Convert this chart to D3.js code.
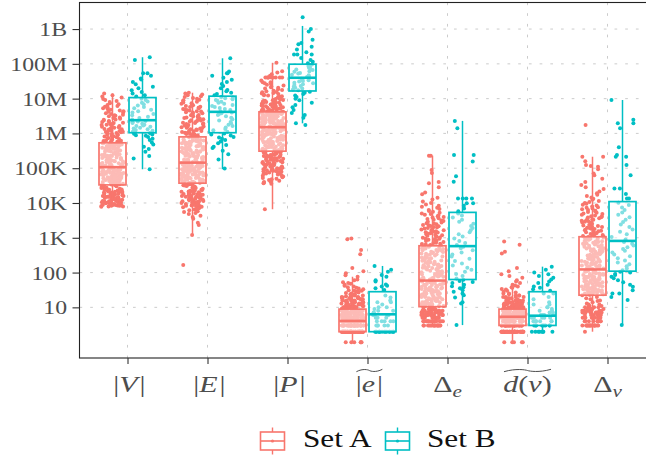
<!DOCTYPE html>
<html>
<head>
<meta charset="utf-8">
<script src="https://cdn.jsdelivr.net/npm/d3@7"></script>
<style>
  body { margin: 0; background: #fff; }
  svg { display: block; }
</style>
</head>
<body>
<svg id="chart" width="646" height="456"></svg>
<script>
// ---- data (all values are log10 of the measured quantity) ----
const categories = ["V", "E", "P", "e", "De", "dv", "Dv"];
const groups = ["Set A", "Set B"];
const groupColors = ["#F8766D", "#00BFC4"];

const yTickValues = [1e1, 1e2, 1e3, 1e4, 1e5, 1e6, 1e7, 1e8, 1e9];
const yTickLabels = ["10", "100", "1K", "10K", "100K", "1M", "10M", "100M", "1B"];

// box statistics per category: [lower whisker, Q1, median, Q3, upper whisker]
const boxStatsA = [
  [3.89, 4.52, 5.03, 5.73, 7.15],
  [3.08, 4.57, 5.16, 5.90, 7.17],
  [3.82, 5.49, 6.18, 6.62, 8.03],
  [0.00, 0.30, 0.61, 0.95, 1.88],
  [0.48, 1.02, 1.77, 2.77, 5.36],
  [0.00, 0.48, 0.73, 0.95, 1.65],
  [0.30, 1.35, 2.09, 3.03, 5.33]
];
const boxStatsB = [
  [4.97, 6.02, 6.38, 7.03, 8.19],
  [4.97, 6.02, 6.62, 7.07, 8.16],
  [6.29, 7.22, 7.60, 7.99, 9.09],
  [0.30, 0.30, 0.80, 1.45, 2.19],
  [0.49, 1.80, 2.76, 3.73, 6.36],
  [0.30, 0.48, 0.76, 1.45, 2.17],
  [0.49, 2.04, 2.91, 4.04, 6.96]
];

// individual observations, continuous measures
const ptsV_A = [3.89,3.90,3.92,3.93,3.93,3.95,3.96,3.98,3.99,4.01,4.02,4.04,4.05,4.05,4.07,4.09,4.10,4.12,4.13,4.15,4.16,4.18,4.19,4.20,4.22,4.24,4.25,4.27,4.28,4.30,4.31,4.33,4.35,4.36,4.38,4.40,4.43,4.45,4.48,4.51,
  4.53,4.54,4.56,4.57,4.58,4.60,4.61,4.62,4.63,4.65,4.66,4.67,4.69,4.70,4.71,4.72,4.74,4.75,4.76,4.78,4.79,4.80,4.81,4.83,4.84,4.85,4.86,4.88,4.89,4.90,4.91,4.93,4.94,4.95,4.96,4.97,4.98,4.99,5.01,5.02,
  5.04,5.06,5.08,5.09,5.11,5.13,5.15,5.16,5.18,5.20,5.22,5.23,5.25,5.27,5.29,5.30,5.32,5.34,5.36,5.37,5.39,5.41,5.43,5.44,5.46,5.48,5.50,5.51,5.53,5.55,5.57,5.58,5.60,5.62,5.64,5.65,5.67,5.69,5.70,5.72,
  5.75,5.78,5.80,5.83,5.86,5.88,5.91,5.93,5.96,5.99,6.01,6.04,6.07,6.09,6.12,6.15,6.18,6.21,6.24,6.27,6.30,6.33,6.36,6.39,6.42,6.46,6.49,6.52,6.56,6.60,6.64,6.68,6.72,6.77,6.82,6.87,6.93,6.99,7.06,7.15,
  3.90,3.91,3.92,3.94,3.94,3.95,3.97,3.97,3.99,4.00,4.01,4.03,4.04,4.06,4.06,4.08,4.09,4.11,4.11,4.13,4.14,4.16,4.17,4.18,4.20,4.21,4.23,4.24,4.26,4.27,4.29,4.30,4.32,4.34,4.37,4.39,4.41,4.44,4.47,4.50,
  4.53,4.55,4.56,4.58,4.59,4.60,4.62,4.63,4.64,4.66,4.67,4.68,4.70,4.71,4.72,4.73,4.75,4.76,4.77,4.79,4.80,4.81,4.82,4.84,4.85,4.86,4.87,4.89,4.90,4.91,4.92,4.94,4.95,4.96,4.97,4.98,4.99,5.00,5.01,5.02,
  5.05,5.07,5.08,5.10,5.12,5.14,5.15,5.17,5.19,5.21,5.22,5.24,5.26,5.28,5.29,5.31,5.33,5.35,5.36,5.38,5.40,5.42,5.43,5.45,5.47,5.49,5.50,5.52,5.54,5.56,5.57,5.59,5.61,5.63,5.64,5.66,5.68,5.70,5.71,5.72,
  5.74,5.76,5.79,5.81,5.84,5.87,5.89,5.92,5.95,5.97,6.00,6.03,6.05,6.08,6.11,6.13,6.16,6.19,6.22,6.25,6.28,6.31,6.34,6.37,6.40,6.44,6.47,6.51,6.54,6.58,6.62,6.66,6.70,6.75,6.79,6.84,6.90,6.96,7.03,7.10];
const ptsV_B = [4.97,5.28,5.35,5.47,5.55,5.62,5.68,5.74,5.81,5.85,5.90,5.93,5.95,5.97,5.99,6.01,
  6.03,6.05,6.08,6.10,6.12,6.14,6.16,6.19,6.21,6.23,6.25,6.28,6.30,6.32,6.34,6.36,
  6.40,6.44,6.48,6.52,6.56,6.60,6.64,6.68,6.72,6.76,6.80,6.84,6.88,6.92,6.96,7.00,
  7.06,7.10,7.15,7.19,7.24,7.30,7.34,7.41,7.48,7.55,7.58,7.66,7.73,7.73,8.11,8.19];

const ptsE_A = [2.22,3.08,3.37,3.43,3.55,3.63,3.71,3.76,3.81,3.85,
  3.88,3.90,3.93,3.95,3.97,4.00,4.02,4.05,4.07,4.09,4.12,4.14,4.16,4.19,4.21,4.23,4.26,4.28,4.30,4.33,4.35,4.37,4.40,4.42,4.44,4.47,4.49,4.51,4.53,4.56,
  4.58,4.59,4.61,4.62,4.64,4.65,4.67,4.68,4.70,4.71,4.73,4.74,4.76,4.77,4.79,4.80,4.82,4.83,4.85,4.86,4.88,4.89,4.91,4.92,4.94,4.95,4.97,4.98,5.00,5.01,5.03,5.04,5.06,5.07,5.09,5.10,5.11,5.12,5.14,5.15,
  5.17,5.19,5.21,5.23,5.25,5.26,5.28,5.30,5.32,5.34,5.36,5.37,5.39,5.41,5.43,5.45,5.47,5.48,5.50,5.52,5.54,5.56,5.58,5.59,5.61,5.63,5.65,5.67,5.69,5.70,5.72,5.74,5.76,5.78,5.80,5.81,5.83,5.85,5.87,5.89,
  5.92,5.94,5.97,5.99,6.02,6.04,6.07,6.10,6.12,6.15,6.18,6.20,6.23,6.26,6.29,6.31,6.34,6.37,6.40,6.43,6.46,6.49,6.52,6.55,6.58,6.61,6.64,6.67,6.70,6.74,6.77,6.81,6.85,6.89,6.93,6.97,7.02,7.07,7.12,7.17,
  3.60,3.68,3.74,3.79,3.83,3.87,
  3.89,3.91,3.92,3.94,3.96,3.98,3.99,4.01,4.03,4.04,4.06,4.08,4.10,4.11,4.13,4.15,4.17,4.18,4.20,4.22,4.24,4.25,4.27,4.29,4.31,4.32,4.34,4.36,4.38,4.41,4.43,4.46,4.50,4.54,
  4.58,4.60,4.61,4.63,4.64,4.66,4.67,4.69,4.70,4.72,4.73,4.75,4.76,4.78,4.79,4.81,4.82,4.84,4.85,4.87,4.88,4.90,4.91,4.93,4.94,4.96,4.97,4.99,5.00,5.02,5.03,5.05,5.06,5.08,5.09,5.10,5.12,5.13,5.14,5.15,
  5.18,5.20,5.22,5.24,5.25,5.27,5.29,5.31,5.33,5.35,5.36,5.38,5.40,5.42,5.44,5.46,5.47,5.49,5.51,5.53,5.55,5.57,5.58,5.60,5.62,5.64,5.66,5.68,5.69,5.71,5.73,5.75,5.77,5.79,5.80,5.82,5.84,5.86,5.88,5.89,
  5.91,5.93,5.96,5.98,6.01,6.03,6.06,6.08,6.11,6.14,6.16,6.19,6.22,6.24,6.27,6.30,6.33,6.36,6.38,6.41,6.44,6.47,6.50,6.53,6.57,6.60,6.63,6.66,6.69,6.72,6.76,6.79,6.83,6.87,6.91,6.95,7.00,7.05,7.10,7.15];
const ptsE_B = [4.99,5.25,5.40,5.50,5.58,5.62,5.67,5.72,5.77,5.81,5.85,5.88,5.90,5.94,5.97,6.00,
  6.05,6.09,6.13,6.17,6.21,6.25,6.29,6.33,6.37,6.41,6.45,6.49,6.53,6.56,6.58,6.60,
  6.64,6.67,6.70,6.73,6.76,6.79,6.82,6.85,6.88,6.91,6.94,6.96,6.98,7.01,7.03,7.05,
  7.10,7.13,7.17,7.21,7.25,7.30,7.36,7.42,7.48,7.54,7.60,7.66,7.73,7.73,7.78,8.16];

const ptsP_A = [3.82,4.55,4.58,4.62,4.66,4.70,4.74,4.78,4.82,4.86,
  4.88,4.90,4.92,4.94,4.96,4.98,5.00,5.02,5.04,5.06,5.08,5.10,5.12,5.14,5.16,5.18,5.20,5.22,5.24,5.26,5.28,5.30,5.32,5.34,5.36,5.38,5.40,5.42,5.45,5.48,
  5.50,5.52,5.54,5.55,5.57,5.59,5.61,5.62,5.64,5.66,5.68,5.69,5.71,5.73,5.75,5.76,5.78,5.80,5.82,5.83,5.85,5.87,5.89,5.90,5.92,5.94,5.96,5.97,5.99,6.01,6.03,6.04,6.06,6.08,6.10,6.11,6.13,6.15,6.16,6.17,
  6.19,6.20,6.21,6.22,6.24,6.25,6.26,6.27,6.28,6.30,6.31,6.32,6.33,6.34,6.36,6.37,6.38,6.39,6.40,6.42,6.43,6.44,6.45,6.46,6.48,6.49,6.50,6.51,6.52,6.54,6.55,6.56,6.57,6.58,6.59,6.60,6.60,6.61,6.61,6.62,
  6.64,6.66,6.68,6.70,6.72,6.74,6.76,6.78,6.80,6.82,6.84,6.86,6.88,6.90,6.92,6.94,6.96,6.98,7.00,7.03,7.06,7.09,7.12,7.15,7.18,7.21,7.25,7.29,7.33,7.38,7.43,7.47,7.61,7.61,7.61,7.61,7.61,7.70,7.79,8.03,
  4.57,4.60,4.64,4.68,4.72,4.76,4.80,4.84,4.85,4.87,
  4.89,4.91,4.93,4.95,4.97,4.99,5.01,5.03,5.05,5.07,5.09,5.11,5.13,5.15,5.17,5.19,5.21,5.23,5.25,5.27,5.29,5.31,5.33,5.35,5.37,5.39,5.41,5.44,5.46,5.48,
  5.51,5.53,5.54,5.56,5.58,5.60,5.61,5.63,5.65,5.67,5.68,5.70,5.72,5.74,5.75,5.77,5.79,5.81,5.82,5.84,5.86,5.88,5.89,5.91,5.93,5.95,5.96,5.98,6.00,6.02,6.03,6.05,6.07,6.09,6.10,6.12,6.14,6.15,6.16,6.17,
  6.19,6.20,6.21,6.23,6.24,6.25,6.26,6.27,6.29,6.30,6.31,6.32,6.33,6.35,6.36,6.37,6.38,6.39,6.41,6.42,6.43,6.44,6.45,6.47,6.48,6.49,6.50,6.51,6.53,6.54,6.55,6.56,6.57,6.58,6.59,6.59,6.60,6.61,6.61,6.62,
  6.63,6.65,6.67,6.69,6.71,6.73,6.75,6.77,6.79,6.81,6.83,6.85,6.87,6.89,6.91,6.93,6.95,6.97,6.99,7.01,7.04,7.07,7.10,7.13,7.16,7.19,7.23,7.27,7.31,7.35,7.40,7.44,7.47,7.52,7.61,7.61,7.61,7.61,7.66,7.75];
const ptsP_B = [6.24,6.29,6.45,6.53,6.59,6.67,6.75,6.82,6.88,6.95,7.00,7.05,7.09,7.13,7.17,7.20,
  7.24,7.26,7.29,7.31,7.34,7.36,7.39,7.41,7.44,7.46,7.49,7.51,7.53,7.55,7.57,7.59,
  7.62,7.64,7.67,7.69,7.72,7.74,7.77,7.79,7.82,7.84,7.87,7.89,7.92,7.94,7.96,7.98,
  8.02,8.06,8.11,8.17,8.27,8.27,8.27,8.33,8.41,8.49,8.56,8.60,8.69,8.93,9.00,9.34];

const ptsDe_A = [0.48,0.48,0.48,0.48,0.48,0.48,0.48,0.48,0.60,0.60,0.60,0.60,0.60,0.60,0.60,0.70,0.70,0.70,0.70,0.70,0.70,
  0.78,0.78,0.78,0.78,0.78,0.78,0.85,0.85,0.85,0.85,0.85,0.90,0.90,0.90,0.90,0.95,0.95,0.95,0.95,
  1.04,1.04,1.08,1.08,1.11,1.11,1.15,1.15,1.18,1.20,1.20,1.23,1.26,1.26,1.28,1.30,1.32,1.34,1.36,1.38,1.40,1.42,1.43,1.45,1.46,1.48,1.50,1.51,1.53,1.54,1.56,1.58,1.60,1.62,1.64,1.66,1.68,1.70,1.72,1.75,
  1.79,1.81,1.84,1.86,1.89,1.91,1.94,1.96,1.99,2.01,2.04,2.06,2.09,2.11,2.14,2.16,2.19,2.21,2.24,2.26,2.29,2.31,2.34,2.36,2.39,2.41,2.44,2.46,2.49,2.51,2.54,2.56,2.59,2.61,2.64,2.66,2.69,2.71,2.74,2.76,
  2.79,2.82,2.85,2.88,2.91,2.94,2.97,3.00,3.03,3.06,3.09,3.12,3.15,3.18,3.21,3.24,3.27,3.30,3.33,3.36,3.39,3.42,3.46,3.50,3.54,3.58,3.62,3.66,3.70,3.75,3.80,3.86,3.92,4.00,4.10,4.25,4.57,4.86,5.36,5.36,
  0.48,0.48,0.48,0.48,0.48,0.48,0.48,0.48,0.60,0.60,0.60,0.60,0.60,0.60,0.60,0.70,0.70,0.70,0.70,0.70,0.70,
  0.78,0.78,0.78,0.78,0.78,0.78,0.85,0.85,0.85,0.85,0.85,0.90,0.90,0.90,0.90,0.95,0.95,0.95,0.95,
  1.00,1.04,1.04,1.08,1.11,1.11,1.15,1.18,1.18,1.20,1.23,1.23,1.26,1.28,1.30,1.30,1.32,1.34,1.36,1.38,1.40,1.41,1.43,1.45,1.46,1.48,1.49,1.51,1.52,1.54,1.56,1.57,1.59,1.61,1.63,1.65,1.67,1.69,1.71,1.74,
  1.78,1.80,1.83,1.85,1.88,1.90,1.93,1.95,1.98,2.00,2.03,2.05,2.08,2.10,2.13,2.15,2.18,2.20,2.23,2.25,2.28,2.30,2.33,2.35,2.38,2.40,2.43,2.45,2.48,2.50,2.53,2.55,2.58,2.60,2.63,2.65,2.68,2.70,2.73,2.75,
  2.78,2.81,2.83,2.86,2.89,2.92,2.95,2.98,3.01,3.04,3.07,3.10,3.13,3.16,3.19,3.22,3.25,3.28,3.31,3.34,3.37,3.41,3.44,3.48,3.52,3.56,3.60,3.64,3.68,3.72,3.77,3.83,3.89,3.96,4.04,4.15,4.30,4.45,4.60,4.95];
const ptsDe_B = [0.49,1.11,1.15,1.28,1.35,1.40,1.45,1.49,1.55,1.58,1.61,1.65,1.70,1.73,1.76,1.79,
  1.83,1.90,1.96,2.02,2.08,2.14,2.20,2.26,2.33,2.40,2.46,2.52,2.58,2.64,2.70,2.74,
  2.79,2.85,2.91,2.98,3.04,3.10,3.16,3.22,3.28,3.34,3.40,3.46,3.52,3.58,3.64,3.70,
  3.76,3.84,3.92,3.99,3.99,4.13,4.13,4.13,4.13,4.61,4.77,5.19,5.38,5.38,6.15,6.36];

const ptsDv_A = [0.30,0.48,0.48,0.48,0.48,0.48,0.48,0.48,0.48,0.60,0.60,0.60,0.60,0.60,0.60,0.70,0.70,0.70,0.70,0.70,
  0.78,0.78,0.78,0.78,0.85,0.85,0.85,0.90,0.90,0.90,0.95,0.95,1.00,1.00,1.04,1.08,1.15,1.20,1.26,1.30,
  1.36,1.38,1.40,1.42,1.43,1.45,1.47,1.49,1.51,1.52,1.54,1.56,1.58,1.60,1.61,1.63,1.65,1.67,1.69,1.70,1.72,1.74,1.76,1.78,1.79,1.81,1.83,1.85,1.87,1.88,1.90,1.92,1.94,1.96,1.97,1.99,2.01,2.03,2.05,2.07,
  2.11,2.13,2.16,2.18,2.20,2.23,2.25,2.27,2.30,2.32,2.34,2.37,2.39,2.41,2.44,2.46,2.48,2.51,2.53,2.55,2.58,2.60,2.62,2.65,2.67,2.69,2.72,2.74,2.76,2.79,2.81,2.83,2.86,2.88,2.90,2.93,2.95,2.97,2.99,3.01,
  3.05,3.08,3.11,3.14,3.17,3.20,3.23,3.26,3.29,3.32,3.35,3.38,3.41,3.44,3.47,3.50,3.53,3.56,3.59,3.62,3.66,3.70,3.74,3.78,3.82,3.86,3.90,3.95,4.00,4.06,4.12,4.20,4.28,4.40,4.52,4.70,4.85,5.06,5.09,5.33,5.33,6.24,
  0.48,0.48,0.48,0.48,0.48,0.48,0.48,0.48,0.60,0.60,0.60,0.60,0.60,0.60,0.70,0.70,0.70,0.70,0.70,
  0.78,0.78,0.78,0.78,0.85,0.85,0.85,0.85,0.90,0.90,0.90,0.95,0.95,0.95,1.00,1.00,1.04,1.08,1.11,1.18,1.23,
  1.35,1.37,1.39,1.41,1.42,1.44,1.46,1.48,1.50,1.51,1.53,1.55,1.57,1.59,1.60,1.62,1.64,1.66,1.68,1.69,1.71,1.73,1.75,1.77,1.78,1.80,1.82,1.84,1.86,1.87,1.89,1.91,1.93,1.95,1.96,1.98,2.00,2.02,2.04,2.06,
  2.10,2.12,2.14,2.17,2.19,2.21,2.24,2.26,2.28,2.31,2.33,2.35,2.38,2.40,2.42,2.45,2.47,2.49,2.52,2.54,2.56,2.59,2.61,2.63,2.66,2.68,2.70,2.73,2.75,2.77,2.80,2.82,2.84,2.87,2.89,2.91,2.94,2.96,2.98,3.02,
  3.04,3.07,3.10,3.13,3.16,3.19,3.22,3.25,3.28,3.31,3.34,3.37,3.40,3.43,3.46,3.49,3.52,3.55,3.58,3.61,3.64,3.68,3.72,3.76,3.80,3.84,3.88,3.93,3.98,4.03,4.09,4.16,4.24,4.33,4.45,4.60,4.80,4.97,5.04,5.20];
const ptsDv_B = [0.49,1.21,1.30,1.40,1.40,1.49,1.59,1.65,1.72,1.78,1.84,1.88,1.93,1.96,2.00,2.02,
  2.07,2.12,2.18,2.24,2.29,2.35,2.41,2.47,2.52,2.58,2.63,2.68,2.73,2.78,2.83,2.88,
  2.95,3.02,3.10,3.17,3.24,3.31,3.38,3.45,3.52,3.59,3.66,3.73,3.80,3.87,3.94,4.01,
  4.13,4.13,4.26,4.42,4.42,4.80,5.09,5.33,5.33,5.38,5.60,6.15,6.29,6.29,6.39,6.96];

// integer-valued measures as frequency tables (log10 value, count)
const edgeA_values = [0,0.30,0.48,0.60,0.70,0.78,0.85,0.90,0.95,1.00,1.04,1.08,1.11,1.15,1.18,1.20,1.23,1.26,1.28,1.30,
  1.32,1.34,1.36,1.38,1.40,1.41,1.43,1.45,1.46,1.48,1.49,1.52,1.54,1.56,1.58,1.60,1.62,1.65,1.68,1.70,
  1.72,1.78,1.80,1.88,1.92,1.98,2.04,2.13,2.53,2.65,2.96,2.98];
const edgeA_counts = [6,72,38,38,20,18,16,14,12,8,6,6,5,5,4,4,3,4,2,4,
  1,3,1,2,1,1,1,1,1,2,1,1,1,1,1,1,1,1,1,1,
  1,1,1,1,1,1,1,1,1,1,1,1];
const edgeB_values = [0.30,0.48,0.60,0.70,0.78,0.85,0.90,0.95,1.00,1.08,1.15,1.20,1.28,1.34,1.50,1.55,1.60,1.62,1.66,1.74,1.78,1.88,1.93,2.02,2.08,2.19];
const edgeB_counts = [15,5,5,3,4,2,2,1,2,1,2,1,1,1,1,1,1,1,1,1,1,1,1,1,1,1];
const degA_values = [0,0.30,0.48,0.60,0.70,0.78,0.85,0.90,0.95,1.00,1.04,1.08,1.11,1.15,1.18,1.20,1.23,1.26,1.30,
  1.34,1.38,1.40,1.43,1.45,1.48,1.51,1.53,1.56,1.58,1.60,1.63,1.65,1.70,1.74,1.78,1.85,1.90,1.95,2.04,
  2.13,2.55,2.60,2.80,2.89];
const degA_counts = [5,50,30,30,40,24,20,18,18,8,6,6,6,4,4,4,1,4,4,
  3,1,2,1,1,1,1,1,1,1,1,1,1,1,1,1,1,1,1,1,
  1,1,1,1,1];
const degB_values = [0.30,0.48,0.60,0.70,0.78,0.85,0.90,0.95,1.00,1.08,1.15,1.23,1.30,1.40,1.48,1.52,1.56,1.60,1.65,1.70,1.74,1.80,1.85,1.90,1.95,2.00,2.08,2.17];
const degB_counts = [8,8,6,5,4,2,2,1,2,2,1,1,1,2,1,1,1,1,1,1,1,1,1,1,1,1,1,1];

const expand = (vals, counts) => vals.flatMap((v, i) => Array(counts[i]).fill(v));
const pointsA = [ptsV_A, ptsE_A, ptsP_A, expand(edgeA_values, edgeA_counts), ptsDe_A, expand(degA_values, degA_counts), ptsDv_A];
const pointsB = [ptsV_B, ptsE_B, ptsP_B, expand(edgeB_values, edgeB_counts), ptsDe_B, expand(degB_values, degB_counts), ptsDv_B];

// ---- layout ----
const svg = d3.select("#chart");
const panel = { left: 79.5, right: 655.5, top: 2.5, bottom: 358 };
const serif = "'Liberation Serif', 'Times New Roman', serif";
const stretch = 1.25;   // horizontal text stretch
const axisGrey = "#4D4D4D";

const x = d3.scalePoint().domain(categories).range([panel.left, panel.right]).padding(0.6);
const step = x.step();
const y = d3.scaleLog().domain([0.35, 5.8e9]).range([panel.bottom, panel.top]);

const dodge = 0.1875 * step;
const boxW = 0.3375 * step;
const jitterW = 0.14 * step;

// ---- grid ----
const grid = svg.append("g").attr("stroke", "#c6c6c6").attr("stroke-width", 0.9)
  .attr("stroke-dasharray", "2.7,8");
grid.selectAll("line.h").data(yTickValues).join("line")
  .attr("x1", panel.left).attr("x2", panel.right)
  .attr("y1", d => y(d)).attr("y2", d => y(d));
grid.selectAll("line.v").data(categories).join("line")
  .attr("x1", d => x(d)).attr("x2", d => x(d))
  .attr("y1", panel.top).attr("y2", panel.bottom);

// ---- jittered observations (deterministic horizontal spread) ----
const spread = (i, k) => {
  const s = Math.sin(i * 127.1 + k * 311.7) * 43758.5453;
  return (s - Math.floor(s) - 0.5) * 2 * jitterW;
};
const ptLayer = svg.append("g");
[pointsA, pointsB].forEach((sets, g) => {
  sets.forEach((vals, ci) => {
    const cx0 = x(categories[ci]) + (g === 0 ? -dodge : dodge);
    ptLayer.append("g").attr("fill", groupColors[g])
      .selectAll("circle").data(vals).join("circle")
      .attr("cx", (d, i) => cx0 + spread(i, ci * 2 + g))
      .attr("cy", d => y(Math.pow(10, d)))
      .attr("r", 2.0);
  });
});

// ---- boxes ----
const boxLayer = svg.append("g");
[boxStatsA, boxStatsB].forEach((stats, g) => {
  stats.forEach((s, ci) => {
    const cx = x(categories[ci]) + (g === 0 ? -dodge : dodge);
    const [lo, q1, med, q3, hi] = s.map(v => y(Math.pow(10, v)));
    const b = boxLayer.append("g").attr("stroke", groupColors[g]);
    b.append("line").attr("x1", cx).attr("x2", cx).attr("y1", q3).attr("y2", hi).attr("stroke-width", 1.5);
    b.append("line").attr("x1", cx).attr("x2", cx).attr("y1", q1).attr("y2", lo).attr("stroke-width", 1.5);
    b.append("rect").attr("x", cx - boxW / 2).attr("width", boxW)
      .attr("y", q3).attr("height", Math.max(q1 - q3, 0.01))
      .attr("fill", "#fff").attr("fill-opacity", 0.5).attr("stroke-width", 1.7);
    b.append("line").attr("x1", cx - boxW / 2).attr("x2", cx + boxW / 2)
      .attr("y1", med).attr("y2", med).attr("stroke-width", 2.6);
  });
});

// ---- panel border ----
svg.append("rect").attr("x", panel.left).attr("y", panel.top)
  .attr("width", panel.right - panel.left).attr("height", panel.bottom - panel.top)
  .attr("fill", "none").attr("stroke", "#222").attr("stroke-width", 1.1);

// ---- y axis ----
const yAxis = svg.append("g").attr("transform", `translate(${panel.left},0)`)
  .call(d3.axisLeft(y).tickValues(yTickValues).tickFormat((d, i) => yTickLabels[i])
    .tickSize(7).tickSizeOuter(0));
yAxis.select(".domain").remove();
yAxis.selectAll(".tick line").attr("stroke", "#333").attr("stroke-width", 1.1);
yAxis.selectAll(".tick text")
  .attr("x", null).attr("dy", null)
  .attr("transform", `translate(-12.5,6.5) scale(${stretch},1)`)
  .attr("text-anchor", "end")
  .style("font-family", serif).style("font-size", "19px").attr("fill", axisGrey);

// ---- x axis ----
const xAxis = svg.append("g").attr("transform", `translate(0,${panel.bottom})`)
  .call(d3.axisBottom(x).tickFormat("").tickSize(6).tickSizeOuter(0));
xAxis.select(".domain").remove();
xAxis.selectAll(".tick line").attr("stroke", "#333").attr("stroke-width", 1.1);

// math-style category labels: [text, italic, subscript]
const xLabels = {
  V:  { parts: [["|", 0], ["V", 1], ["|", 0]] },
  E:  { parts: [["|", 0], ["E", 1], ["|", 0]] },
  P:  { parts: [["|", 0], ["P", 1], ["|", 0]] },
  e:  { parts: [["|", 0], ["e", 1], ["|", 0]], tilde: true },
  De: { parts: [["Δ", 0], ["e", 1, 1]] },
  dv: { parts: [["d", 1], ["(", 0], ["v", 1], [")", 0]], tilde: true },
  Dv: { parts: [["Δ", 0], ["v", 1, 1]] }
};
categories.forEach(c => {
  const spec = xLabels[c];
  const g = svg.append("g").attr("transform", `translate(${x(c)},392) scale(${stretch},1)`);
  const t = g.append("text").attr("text-anchor", "middle")
    .style("font-family", serif).style("font-size", "24px").attr("fill", axisGrey);
  spec.parts.forEach(([s, it, sub]) => {
    const ts = t.append("tspan").text(s);
    if (it) ts.style("font-style", "italic");
    if (sub) ts.attr("dy", 5).style("font-size", "17px");
    if (s === "|") ts.attr("dx", 1.5);
  });
  if (spec.tilde) {
    const bb = t.node().getBBox();
    const x0 = bb.x + 0.5, x1 = bb.x + bb.width - 0.5, w = x1 - x0, yy = -21.5;
    g.append("path")
      .attr("d", `M${x0},${yy + 1.2} C${x0 + w * 0.25},${yy - 2.2} ${x0 + w * 0.45},${yy - 0.8} ${x0 + w / 2},${yy} S${x0 + w * 0.75},${yy + 2.2} ${x1},${yy - 1.2}`)
      .attr("fill", "none").attr("stroke", axisGrey).attr("stroke-width", 1)
      .attr("vector-effect", "non-scaling-stroke");
  }
});

// ---- legend ----
const legendItems = [
  { label: groups[0], color: groupColors[0], kx: 272.5, tx: 303 },
  { label: groups[1], color: groupColors[1], kx: 397.5, tx: 427 }
];
legendItems.forEach(it => {
  const k = svg.append("g").attr("stroke", it.color);
  k.append("line").attr("x1", it.kx).attr("x2", it.kx).attr("y1", 427.5).attr("y2", 454.5).attr("stroke-width", 1.4);
  k.append("rect").attr("x", it.kx - 12).attr("y", 432).attr("width", 24).attr("height", 18)
    .attr("fill", "#fff").attr("stroke-width", 1.6);
  k.append("line").attr("x1", it.kx - 12).attr("x2", it.kx + 12).attr("y1", 441).attr("y2", 441).attr("stroke-width", 1.6);
  k.append("circle").attr("cx", it.kx).attr("cy", 441).attr("r", 1.6).attr("fill", it.color).attr("stroke", "none");
  svg.append("text").attr("transform", `translate(${it.tx},447) scale(${stretch},1)`)
    .style("font-family", serif).style("font-size", "25px").attr("fill", "#111")
    .text(it.label);
});
</script>
</body>
</html>
